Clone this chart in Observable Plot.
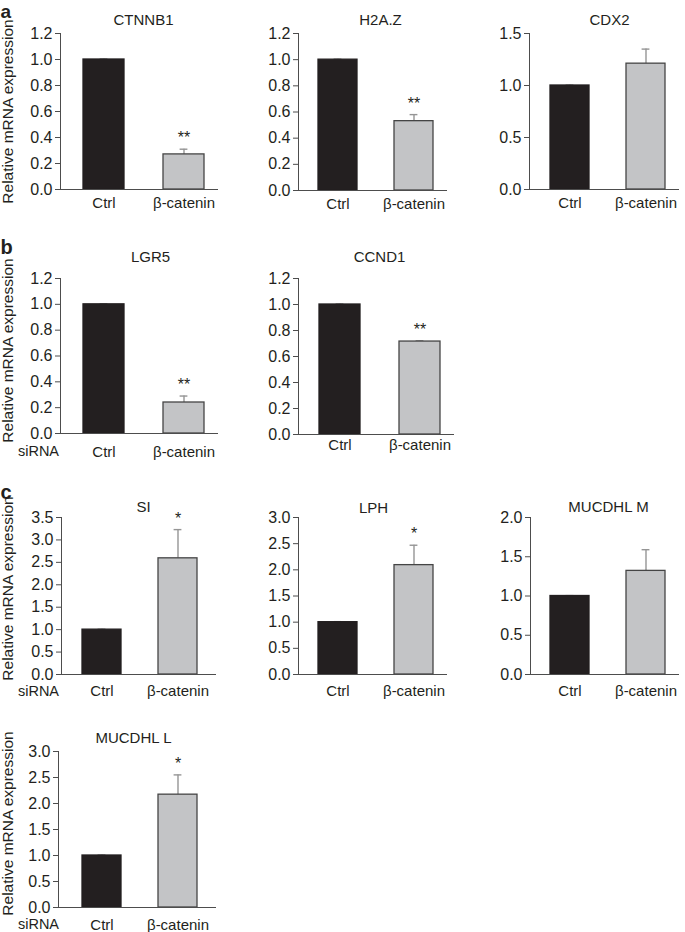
<!DOCTYPE html>
<html><head><meta charset="utf-8">
<script src="https://cdn.jsdelivr.net/npm/d3@7"></script>
<script src="https://cdn.jsdelivr.net/npm/@observablehq/plot@0.6"></script>
<style>
body{margin:0;background:#fff;}
#fig{position:relative;width:685px;height:932px;overflow:hidden;font-family:"Liberation Sans",Arial,sans-serif;}
#fig svg{position:absolute;overflow:visible;}
</style></head><body><div id="fig"></div>
<script>
// ---- data ----
const genes = ["CTNNB1", "H2A.Z", "CDX2", "LGR5", "CCND1", "SI", "LPH", "MUCDHL M", "MUCDHL L"];
const conditions = ["Ctrl", "β-catenin"];
const ctrlMeans = [1.0, 1.0, 1.0, 1.0, 1.0, 1.0, 1.0, 1.0, 1.0];
const ctrlErrors = [0.004, 0.004, 0.004, 0.004, 0.004, 0.01, 0.01, 0.005, 0.01];
const betaMeans = [0.27, 0.53, 1.21, 0.24, 0.715, 2.59, 2.09, 1.32, 2.17];
const betaErrors = [0.04, 0.05, 0.14, 0.05, 0.006, 0.64, 0.38, 0.27, 0.38];
const significance = ["**", "**", "", "**", "**", "*", "*", "", "*"];
const yMaxes = [1.2, 1.2, 1.5, 1.2, 1.2, 3.5, 3.0, 2.0, 3.0];
const yTickSteps = [0.2, 0.2, 0.5, 0.2, 0.2, 0.5, 0.5, 0.5, 0.5];
const rowLetters = ["a", "b", "c"];
const yAxisTitle = "Relative mRNA expression";
const groupTitle = "siRNA";

// ---- layout (page pixel coordinates) ----
const layout = [
  {left:0,   top:0,   width:228, height:215, axisX:60,  yTop:33,  yBase:189, xRight:217, barL:82,  barR:204, titleX:143, titleY:20,  xLabelY:202.5, yLabel:111, letter:0, letterY:17.5, letterSize:19},
  {left:228, top:0,   width:228, height:215, axisX:298, yTop:33,  yBase:190, xRight:446, barL:317, barR:433, titleX:380, titleY:20,  xLabelY:203},
  {left:456, top:0,   width:229, height:215, axisX:529, yTop:33,  yBase:189, xRight:678, barL:549, barR:665, titleX:609, titleY:20,  xLabelY:202.5},
  {left:0,   top:225, width:228, height:235, axisX:60,  yTop:278, yBase:433, xRight:217, barL:82,  barR:204, titleX:150, titleY:257, xLabelY:451, yLabel:350, letter:1, letterY:253, letterSize:20, siRNA:true},
  {left:228, top:225, width:228, height:235, axisX:298, yTop:278, yBase:434, xRight:453, barL:318, barR:440, titleX:379, titleY:257, xLabelY:444},
  {left:0,   top:470, width:228, height:230, axisX:61,  yTop:517, yBase:674, xRight:215, barL:81,  barR:197, titleX:143, titleY:507, xLabelY:690.5, yLabel:588, letter:2, letterY:498, letterSize:20, siRNA:true},
  {left:228, top:470, width:228, height:230, axisX:298, yTop:517, yBase:674, xRight:446, barL:317, barR:433, titleX:373, titleY:508, xLabelY:690},
  {left:456, top:470, width:229, height:230, axisX:530, yTop:517, yBase:674, xRight:678, barL:549, barR:665, titleX:608, titleY:507, xLabelY:690},
  {left:0,   top:710, width:228, height:222, axisX:58,  yTop:751, yBase:907, xRight:215, barL:81,  barR:197, titleX:133, titleY:738, xLabelY:924, yLabel:823, siRNA:true}
];

const ink = "#231f20";
const axisInk = "#4d4d4d";
const fig = document.getElementById("fig");
const padInner = 0.49;

layout.forEach((L, i) => {
  const data = conditions.map((c, j) => ({
    cond: c,
    mean: j ? betaMeans[i] : ctrlMeans[i],
    err: j ? betaErrors[i] : ctrlErrors[i]
  }));
  const ml = L.axisX - L.left, mt = L.yTop - L.top;
  const mb = L.top + L.height - L.yBase, mr = L.left + L.width - L.xRight;
  const ticks = d3.range(0, yMaxes[i] + 1e-9, yTickSteps[i]);
  const frameMidX = (L.axisX + L.xRight) / 2;
  const frameMidY = (L.yTop + L.yBase) / 2;
  const bw = (L.barR - L.barL) / (2 - padInner) * (1 - padInner);
  const capInset = (bw - 8) / 2;
  const marks = [
    Plot.ruleX(data, {x: "cond", y1: "mean", y2: d => d.mean + d.err, stroke: "#959595", strokeWidth: 1.4}),
    Plot.tickY(data, {x: "cond", y: d => d.mean + d.err, stroke: "#959595", strokeWidth: 1.4, insetLeft: capInset, insetRight: capInset}),
    Plot.barY(data, {x: "cond", y: "mean", fill: "cond", stroke: d => d.cond === "Ctrl" ? ink : "#454545", strokeWidth: 1.3}),
    Plot.frame({anchor: "left", stroke: axisInk, strokeWidth: 1}),
    Plot.frame({anchor: "bottom", stroke: axisInk, strokeWidth: 1}),
    Plot.axisY({ticks, tickFormat: d3.format(".1f"), tickSize: 5, tickPadding: 3, fontSize: 16, label: null, stroke: axisInk, fill: ink}),
    Plot.axisX({tickSize: 0, tickPadding: L.xLabelY - L.yBase - 5.5, fontSize: 15, label: null, fill: ink}),
    Plot.text([genes[i]], {frameAnchor: "top", dx: L.titleX - frameMidX, dy: L.titleY - L.yTop, lineAnchor: "middle", fontSize: 15, fill: ink})
  ];
  if (significance[i]) {
    marks.push(Plot.text(data.filter(d => d.cond !== "Ctrl"), {x: "cond", y: d => d.mean + d.err, text: () => significance[i], dy: -11, lineAnchor: "middle", fontSize: 16, fill: ink}));
  }
  if (L.yLabel !== undefined) {
    marks.push(Plot.text([yAxisTitle], {frameAnchor: "left", dx: 8 - L.axisX, dy: L.yLabel - frameMidY, rotate: -90, textAnchor: "middle", lineAnchor: "middle", fontSize: 15.5, fill: ink}));
  }
  if (L.siRNA) {
    marks.push(Plot.text([groupTitle], {frameAnchor: "bottom-left", dx: 38 - L.axisX, dy: L.xLabelY - L.yBase, textAnchor: "middle", lineAnchor: "middle", fontSize: 14.5, fill: ink}));
  }
  if (L.letter !== undefined) {
    marks.push(Plot.text([rowLetters[L.letter]], {frameAnchor: "top-left", dx: 0 - L.axisX, dy: L.letterY - 0.32 * L.letterSize - L.yTop, textAnchor: "start", lineAnchor: "middle", fontSize: L.letterSize, fontWeight: "bold", fill: ink}));
  }
  const svg = Plot.plot({
    width: L.width, height: L.height,
    marginLeft: ml, marginRight: mr, marginTop: mt, marginBottom: mb,
    style: {fontFamily: '"Liberation Sans", Arial, sans-serif', color: ink, background: "transparent", overflow: "visible"},
    x: {type: "band", domain: conditions, range: [L.barL - L.left, L.barR - L.left], paddingInner: padInner, paddingOuter: 0, axis: null},
    y: {domain: [0, yMaxes[i]], axis: null},
    color: {domain: conditions, range: [ink, "#c3c4c6"]},
    marks
  });
  svg.style.left = L.left + "px";
  svg.style.top = L.top + "px";
  fig.appendChild(svg);
});
</script>
</body></html>
